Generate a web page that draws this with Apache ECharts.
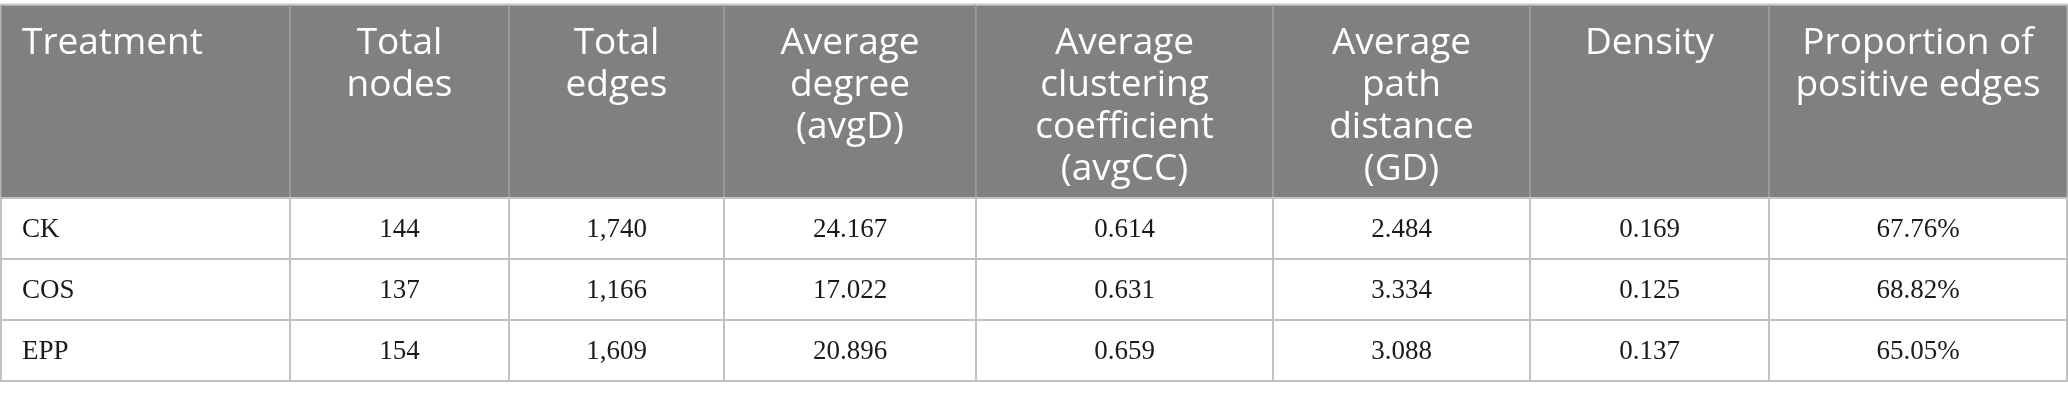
<!DOCTYPE html>
<html>
<head>
<meta charset="utf-8">
<script src="https://cdn.jsdelivr.net/npm/echarts@6/dist/echarts.min.js"></script>
<style>
  html, body { margin: 0; padding: 0; background: #fff; }
  #chartmain { width: 2068px; height: 400px; }
</style>
</head>
<body>
<div id="chartmain"></div>
<script>
// table contents
var headers = [
    ['Treatment'],
    ['Total', 'nodes'],
    ['Total', 'edges'],
    ['Average', 'degree', '(avgD)'],
    ['Average', 'clustering', 'coefficient', '(avgCC)'],
    ['Average', 'path', 'distance', '(GD)'],
    ['Density'],
    ['Proportion of', 'positive edges']
];
var treatments = ['CK', 'COS', 'EPP'];
var totalNodes = [144, 137, 154];
var totalEdges = [1740, 1166, 1609];
var avgDegree = [24.167, 17.022, 20.896];
var avgCC = [0.614, 0.631, 0.659];
var pathDistance = [2.484, 3.334, 3.088];
var density = [0.169, 0.125, 0.137];
var positiveEdges = [67.76, 68.82, 65.05];

// layout (axis units, 1 unit = 1px)
var colEdges = [1, 290, 509, 724, 976, 1273, 1530, 1769, 2067];
var rowEdges = [5, 198, 259, 320, 381];

function fmt3(v) { return v.toFixed(3); }
function fmtInt(v) { return v.toLocaleString('en-US'); }

var columns = [
    treatments,
    totalNodes.map(fmtInt),
    totalEdges.map(fmtInt),
    avgDegree.map(fmt3),
    avgCC.map(fmt3),
    pathDistance.map(fmt3),
    density.map(fmt3),
    positiveEdges.map(function (v) { return v.toFixed(2) + '%'; })
];

// cells: header row first, then body rows so body borders sit on top
var cells = [];
for (var c = 0; c < headers.length; c++) cells.push([c, 0]);
for (var r = 0; r < treatments.length; r++) {
    for (var c2 = 0; c2 < columns.length; c2++) cells.push([c2, r + 1]);
}

function renderCell(params, api) {
    var col = api.value(0), row = api.value(1);
    var p0 = api.coord([colEdges[col], rowEdges[row]]);
    var p1 = api.coord([colEdges[col + 1], rowEdges[row + 1]]);
    var w = p1[0] - p0[0], h = p1[1] - p0[1];
    var left = col === 0;
    if (row === 0) {
        return {
            type: 'group',
            children: [{
                type: 'rect',
                shape: { x: p0[0], y: p0[1], width: w, height: h },
                style: { fill: '#7f8180', stroke: '#9d9f9e', lineWidth: 1.5 }
            }, {
                type: 'line',
                shape: { x1: p0[0], y1: p0[1] - 0.5, x2: p1[0], y2: p0[1] - 0.5 },
                style: { stroke: '#c8c8c8', lineWidth: 2 }
            }, {
                type: 'text',
                x: left ? p0[0] + 21 : (p0[0] + p1[0]) / 2,
                y: p0[1] + 17,
                style: {
                    text: headers[col].join('\n'),
                    fill: '#ffffff',
                    font: '37px "Open Sans"',
                    lineHeight: 42,
                    align: left ? 'left' : 'center',
                    verticalAlign: 'top'
                }
            }]
        };
    }
    return {
        type: 'group',
        children: [{
            type: 'rect',
            shape: { x: p0[0], y: p0[1], width: w, height: h },
            style: { fill: '#ffffff', stroke: '#c2c2c2', lineWidth: 2 }
        }, {
            type: 'text',
            x: left ? p0[0] + 21 : (p0[0] + p1[0]) / 2,
            y: (p0[1] + p1[1]) / 2 + 1,
            style: {
                text: columns[col][row - 1],
                fill: '#1a1a1a',
                font: '27px "Liberation Serif"',
                align: left ? 'left' : 'center',
                verticalAlign: 'middle'
            }
        }]
    };
}

window.onload = function () {
    var option = {
        animation: false,
        grid: { left: 0, right: 0, top: 0, bottom: 0 },
        xAxis: { type: 'value', min: 0, max: 2068, show: false },
        yAxis: { type: 'value', min: 0, max: 400, inverse: true, show: false },
        series: [{
            type: 'custom',
            renderItem: renderCell,
            data: cells,
            encode: { x: 0, y: 1 },
            clip: false,
            silent: true
        }]
    };
    var myChart = echarts.init(document.getElementById('chartmain'));
    myChart.setOption(option);
};
</script>
</body>
</html>
